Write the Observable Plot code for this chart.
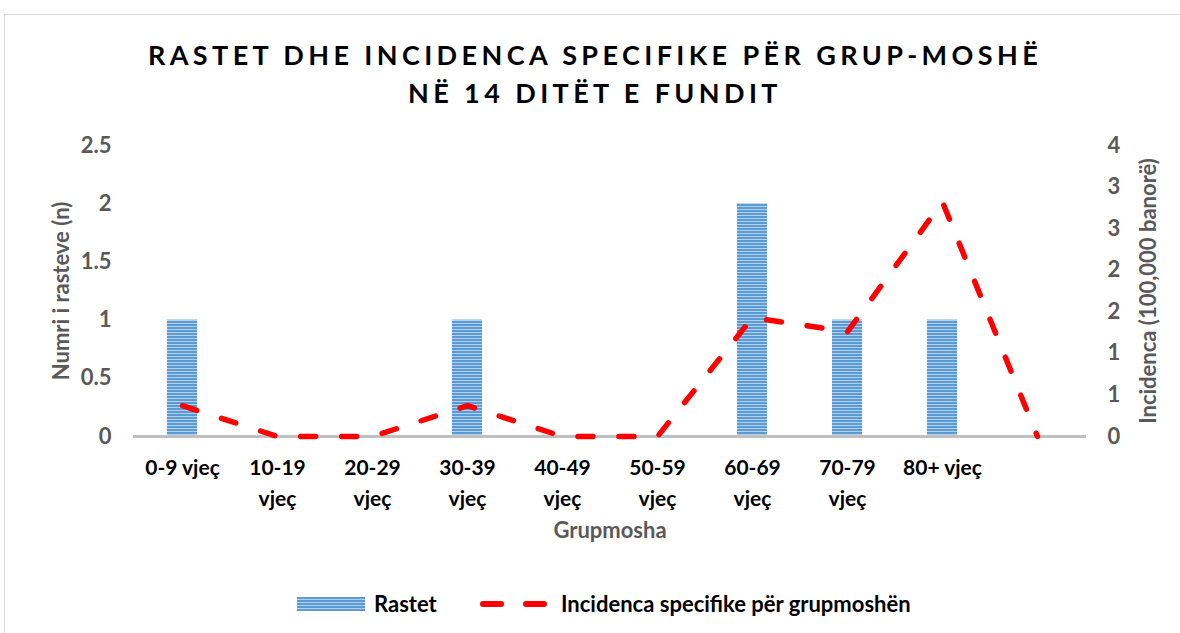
<!DOCTYPE html>
<html>
<head>
<meta charset="utf-8">
<script src="https://cdn.jsdelivr.net/npm/d3@7"></script>
<script src="https://cdn.jsdelivr.net/npm/@observablehq/plot@0.6"></script>
<style>
  body { margin: 0; background: #fff; font-family: Lato, "Open Sans", sans-serif; }
  #wrap { position: relative; width: 1180px; height: 633px; overflow: hidden; }
  #frame { position: absolute; left: 4px; top: 14px; width: 1200px; height: 700px; border: 1px solid #d9d9d9; }
  #title { position: absolute; left: 0; top: 36px; width: 1190px; text-align: center; font-weight: 700; font-size: 27px; line-height: 38px; letter-spacing: 4.4px; color: #000; }
  #chart { position: absolute; left: 0; top: 120px; }
  #legend { position: absolute; top: 590px; left: 0; width: 1180px; height: 28px; font-weight: 700; font-size: 22px; color: #000; }
  .sw { position: absolute; top: 7px; left: 297px; width: 68px; height: 14px; background: repeating-linear-gradient(to bottom, #5b9bd5 0px, #5b9bd5 2px, #b4d0ef 2px, #b4d0ef 3px); }
  .lt { position: absolute; top: 0; line-height: 28px; }
</style>
</head>
<body>
<div id="wrap">
  <div id="frame"></div>
  <div id="title">RASTET DHE INCIDENCA SPECIFIKE PËR GRUP-MOSHË<br>NË 14 DITËT E FUNDIT</div>
  <div id="chart"></div>
  <div id="legend">
    <div class="sw"></div>
    <div class="lt" style="left:374px">Rastet</div>
    <svg class="lt" style="left:477px;top:0" width="74" height="28"><line x1="6" y1="14" x2="67" y2="14" stroke="#ff0000" stroke-width="6" stroke-linecap="round" stroke-dasharray="18,25"/></svg>
    <div class="lt" style="left:561px">Incidenca specifike për grupmoshën</div>
  </div>
</div>
<script>
// ---- data ----
const categories = ["0-9", "10-19", "20-29", "30-39", "40-49", "50-59", "60-69", "70-79", "80+", ""];
const categoryLabels = ["0-9 vjeç", "10-19\nvjeç", "20-29\nvjeç", "30-39\nvjeç", "40-49\nvjeç", "50-59\nvjeç", "60-69\nvjeç", "70-79\nvjeç", "80+ vjeç", ""];
const rastet = [1, 0, 0, 1, 0, 0, 2, 1, 1, null];
const incidenca = [0.37, 0, 0, 0.37, 0, 0, 1.43, 1.26, 2.82, 0];
const leftTicks = [0, 0.5, 1, 1.5, 2, 2.5];
const rightTicks = [0, 0.5, 1, 1.5, 2, 2.5, 3, 3.5];
const leftMax = 2.5, rightMax = 3.5;

const k = leftMax / rightMax;
const rows = categories.map((c, i) => ({cat: c, n: rastet[i], inc: incidenca[i], incScaled: incidenca[i] * k}));
const barRows = rows.filter(d => d.n != null);
const labelOf = new Map(categories.map((c, i) => [c, categoryLabels[i]]));

const pi = 0.685;
const chart = Plot.plot({
  width: 1180,
  height: 440,
  marginLeft: 133,
  marginRight: 94,
  marginTop: 25,
  marginBottom: 124,
  style: {fontFamily: "Lato, 'Open Sans', sans-serif", background: "transparent"},
  x: {type: "band", domain: categories, paddingInner: pi, paddingOuter: pi / 2, align: 0.5},
  y: {domain: [0, leftMax]},
  marks: [
    Plot.barY(barRows, {x: "cat", y: "n", fill: "#5b9bd5", className: "bars"}),
    Plot.ruleY([0], {stroke: "#bfbfbf", strokeWidth: 3}),
    Plot.line(rows, {x: "cat", y: "incScaled", stroke: "#ff0000", strokeWidth: 5.5, strokeDasharray: "15,26", strokeLinecap: "round", strokeLinejoin: "round"}),
    Plot.axisX({tickSize: 0, tickPadding: 17, label: null, tickFormat: d => labelOf.get(d), fontSize: 21, fontWeight: 700, fill: "#000", lineHeight: 1.45}),
    Plot.axisY({anchor: "left", ticks: leftTicks, tickSize: 0, tickPadding: 22, label: null, tickFormat: d => String(d), fontSize: 22, fontWeight: 700, fill: "#595959"}),
    Plot.axisY({anchor: "right", ticks: rightTicks.map(v => v * k), tickSize: 0, tickPadding: 21, label: null, tickFormat: d => String(Math.round(d / k + 1e-9)), fontSize: 22, fontWeight: 700, fill: "#595959", textAnchor: "start"}),
    Plot.text(["Grupmosha"], {frameAnchor: "bottom", dy: 101, fontSize: 22, fontWeight: 700, fill: "#595959"}),
    Plot.text(["Numri i rasteve (n)"], {frameAnchor: "left", dx: -72, rotate: -90, textAnchor: "middle", fontSize: 22, fontWeight: 700, fill: "#595959"}),
    Plot.text(["Incidenca (100,000 banorë)"], {frameAnchor: "right", dx: 62, rotate: -90, textAnchor: "middle", fontSize: 22, fontWeight: 700, fill: "#595959"})
  ]
});

// stripe pattern for bars
const svg = d3.select(chart);
const defs = svg.insert("defs", ":first-child");
const pat = defs.append("pattern").attr("id", "stripes").attr("patternUnits", "userSpaceOnUse").attr("width", 6).attr("height", 3);
pat.append("rect").attr("width", 6).attr("height", 3).attr("fill", "#5b9bd5");
pat.append("rect").attr("y", 2).attr("width", 6).attr("height", 1).attr("fill", "#b4d0ef");
svg.selectAll(".bars rect").attr("fill", "url(#stripes)");

document.getElementById("chart").appendChild(chart);
</script>
</body>
</html>
